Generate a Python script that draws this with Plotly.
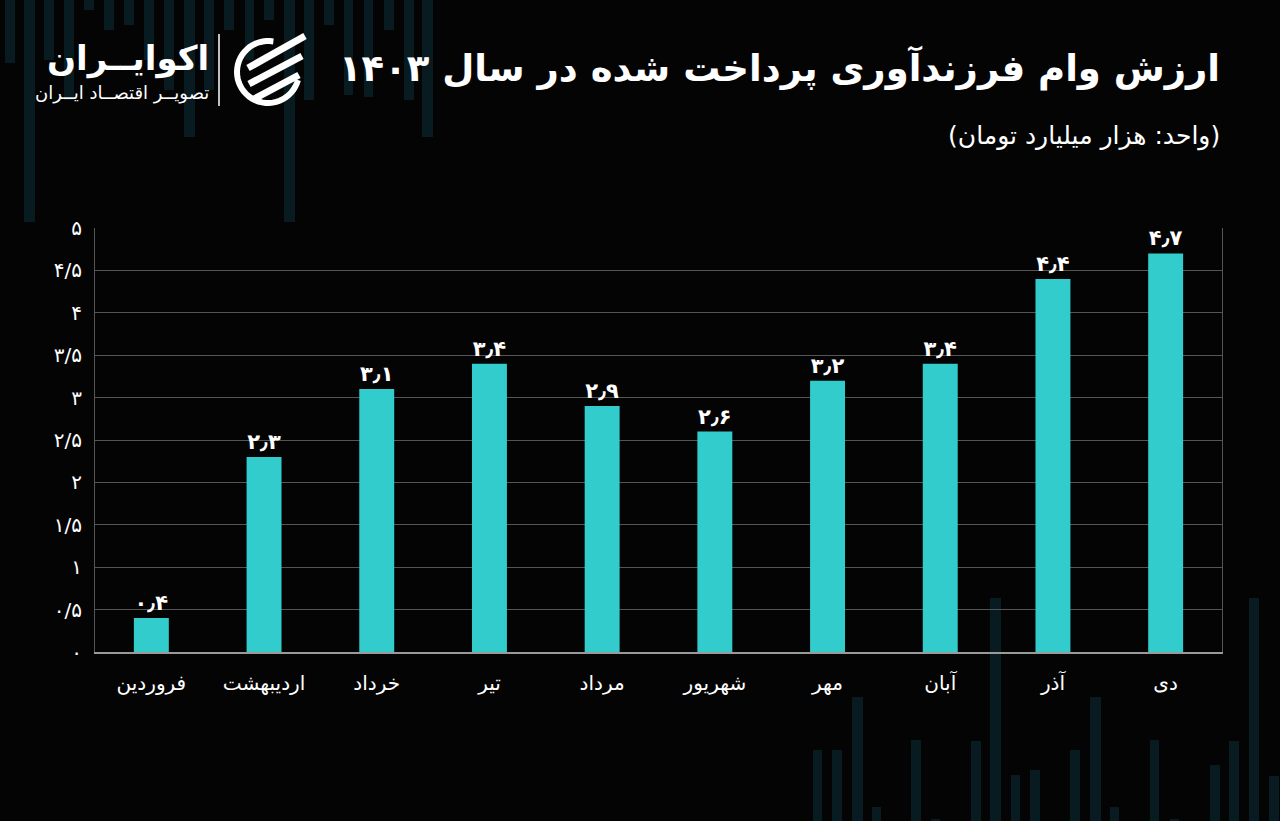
import math
import plotly.graph_objects as go

# data
months = ["فروردین", "اردیبهشت", "خرداد", "تیر", "مرداد", "شهریور", "مهر", "آبان", "آذر", "دی"]
values = [0.4, 2.3, 3.1, 3.4, 2.9, 2.6, 3.2, 3.4, 4.4, 4.7]
value_labels = ["۰٫۴", "۲٫۳", "۳٫۱", "۳٫۴", "۲٫۹", "۲٫۶", "۳٫۲", "۳٫۴", "۴٫۴", "۴٫۷"]
y_tickvals = [0, 0.5, 1, 1.5, 2, 2.5, 3, 3.5, 4, 4.5, 5]
y_ticktext = ["۰", "۰/۵", "۱", "۱/۵", "۲", "۲/۵", "۳", "۳/۵", "۴", "۴/۵", "۵"]

title_text = "ارزش وام فرزندآوری پرداخت شده در سال ۱۴۰۳"
unit_text = "(واحد: هزار میلیارد تومان)"
brand_text = "اکوایــران"
brand_sub = "تصویــر اقتصــاد ایــران"

W, H = 1280, 821
ML, MR, MT, MB = 95, 58, 228, 169
PW = W - ML - MR
PH = H - MT - MB

BAR = "#33cccc"
BG = "#040404"
DECOR = "#071b20"
FONT = "DejaVu Sans"


def px(x):
    return (x - ML) / PW


def py(y):
    return (H - MB - y) / PH


# faint background stripes (decoration only)
top_stripes = [(5, 10, 63), (24, 11, 222), (44, 10, 60), (64, 10, 100), (84, 10, 10),
               (104, 10, 30), (124, 10, 25), (144, 10, 60), (164, 10, 90), (184, 11, 137),
               (204, 10, 90), (224, 10, 30), (245, 9, 60), (264, 10, 20), (284, 11, 222),
               (304, 10, 100), (324, 10, 25), (344, 9, 95), (364, 9, 97), (384, 10, 30),
               (404, 10, 100), (422, 11, 137)]
bottom_stripes = [(813, 9, 750), (832, 10, 750), (852, 11, 697), (872, 9, 807), (911, 10, 740),
                  (931, 9, 819), (971, 10, 741), (990, 11, 598), (1011, 9, 775), (1030, 10, 770),
                  (1070, 10, 750), (1090, 11, 697), (1110, 9, 807), (1150, 9, 740), (1170, 9, 819),
                  (1210, 10, 765), (1229, 10, 741), (1249, 10, 598), (1269, 10, 776)]

shapes = []
for x0, w, yb in top_stripes:
    shapes.append(dict(type="rect", xref="paper", yref="paper", layer="below",
                       x0=px(x0), x1=px(x0 + w), y0=py(yb), y1=py(0),
                       fillcolor=DECOR, line=dict(width=0)))
for x0, w, yt in bottom_stripes:
    shapes.append(dict(type="rect", xref="paper", yref="paper", layer="below",
                       x0=px(x0), x1=px(x0 + w), y0=py(H), y1=py(yt),
                       fillcolor=DECOR, line=dict(width=0)))

# logo: separator, ring and stripes
shapes.append(dict(type="line", xref="paper", yref="paper",
                   x0=px(219), x1=px(219), y0=py(34), y1=py(106),
                   line=dict(color="white", width=1.5)))
cx, cy, r = 268, 72, 31
pts = []
for i in range(41):
    a = math.radians(80 + i * (360 - 95) / 40)
    pts.append((cx + r * math.cos(a), cy - r * math.sin(a)))
ring = "M " + " L ".join(f"{px(x):.5f},{py(y):.5f}" for x, y in pts)
shapes.append(dict(type="path", xref="paper", yref="paper", path=ring,
                   line=dict(color="white", width=6)))
for (x0, y0, x1, y1) in [(248, 68, 305, 36), (249, 84, 302, 56), (254, 99, 299, 75)]:
    shapes.append(dict(type="line", xref="paper", yref="paper",
                       x0=px(x0), y0=py(y0), x1=px(x1), y1=py(y1),
                       line=dict(color="white", width=7)))

fig = go.Figure()
fig.add_trace(
    go.Bar(
        x=months,
        y=values,
        text=value_labels,
        textposition="outside",
        textfont=dict(color="white", size=21, family=FONT),
        texttemplate="<b>%{text}</b>",
        marker=dict(color=BAR, line=dict(width=0)),
        width=0.31,
        cliponaxis=False,
        hoverinfo="skip",
    )
)

fig.update_layout(
    width=W,
    height=H,
    margin=dict(l=ML, r=MR, t=MT, b=MB),
    paper_bgcolor=BG,
    plot_bgcolor="rgba(0,0,0,0)",
    font=dict(family=FONT, color="white"),
    showlegend=False,
    shapes=shapes,
    annotations=[
        dict(text=f"<b>{title_text}</b>", xref="paper", yref="paper",
             x=px(1222), y=py(68), xanchor="right", yanchor="middle",
             showarrow=False, font=dict(size=37, color="white", family=FONT)),
        dict(text=unit_text, xref="paper", yref="paper",
             x=px(1222), y=py(136), xanchor="right", yanchor="middle",
             showarrow=False, font=dict(size=25, color="white", family=FONT)),
        dict(text=f"<b>{brand_text}</b>", xref="paper", yref="paper",
             x=px(211), y=py(58), xanchor="right", yanchor="middle",
             showarrow=False, font=dict(size=34, color="white", family=FONT)),
        dict(text=brand_sub, xref="paper", yref="paper",
             x=px(211), y=py(93), xanchor="right", yanchor="middle",
             showarrow=False, font=dict(size=18, color="white", family=FONT)),
    ],
)

fig.update_xaxes(
    type="category",
    showgrid=False,
    showline=True,
    linecolor="#9a9a9a",
    linewidth=1.5,
    ticks="",
    tickfont=dict(size=20, color="white"),
    ticklabelstandoff=12,
)
fig.update_yaxes(
    range=[0, 5],
    tickvals=y_tickvals,
    ticktext=y_ticktext,
    showgrid=True,
    gridcolor="#555555",
    gridwidth=1,
    zeroline=False,
    showline=True,
    mirror=True,
    linecolor="#555555",
    linewidth=1,
    ticks="",
    tickfont=dict(size=20, color="white"),
    ticklabelstandoff=8,
)

fig.write_html(
    "out.html",
    config={"displayModeBar": False},
    post_script="document.body.style.margin='0';document.body.style.background='#040404';",
)
